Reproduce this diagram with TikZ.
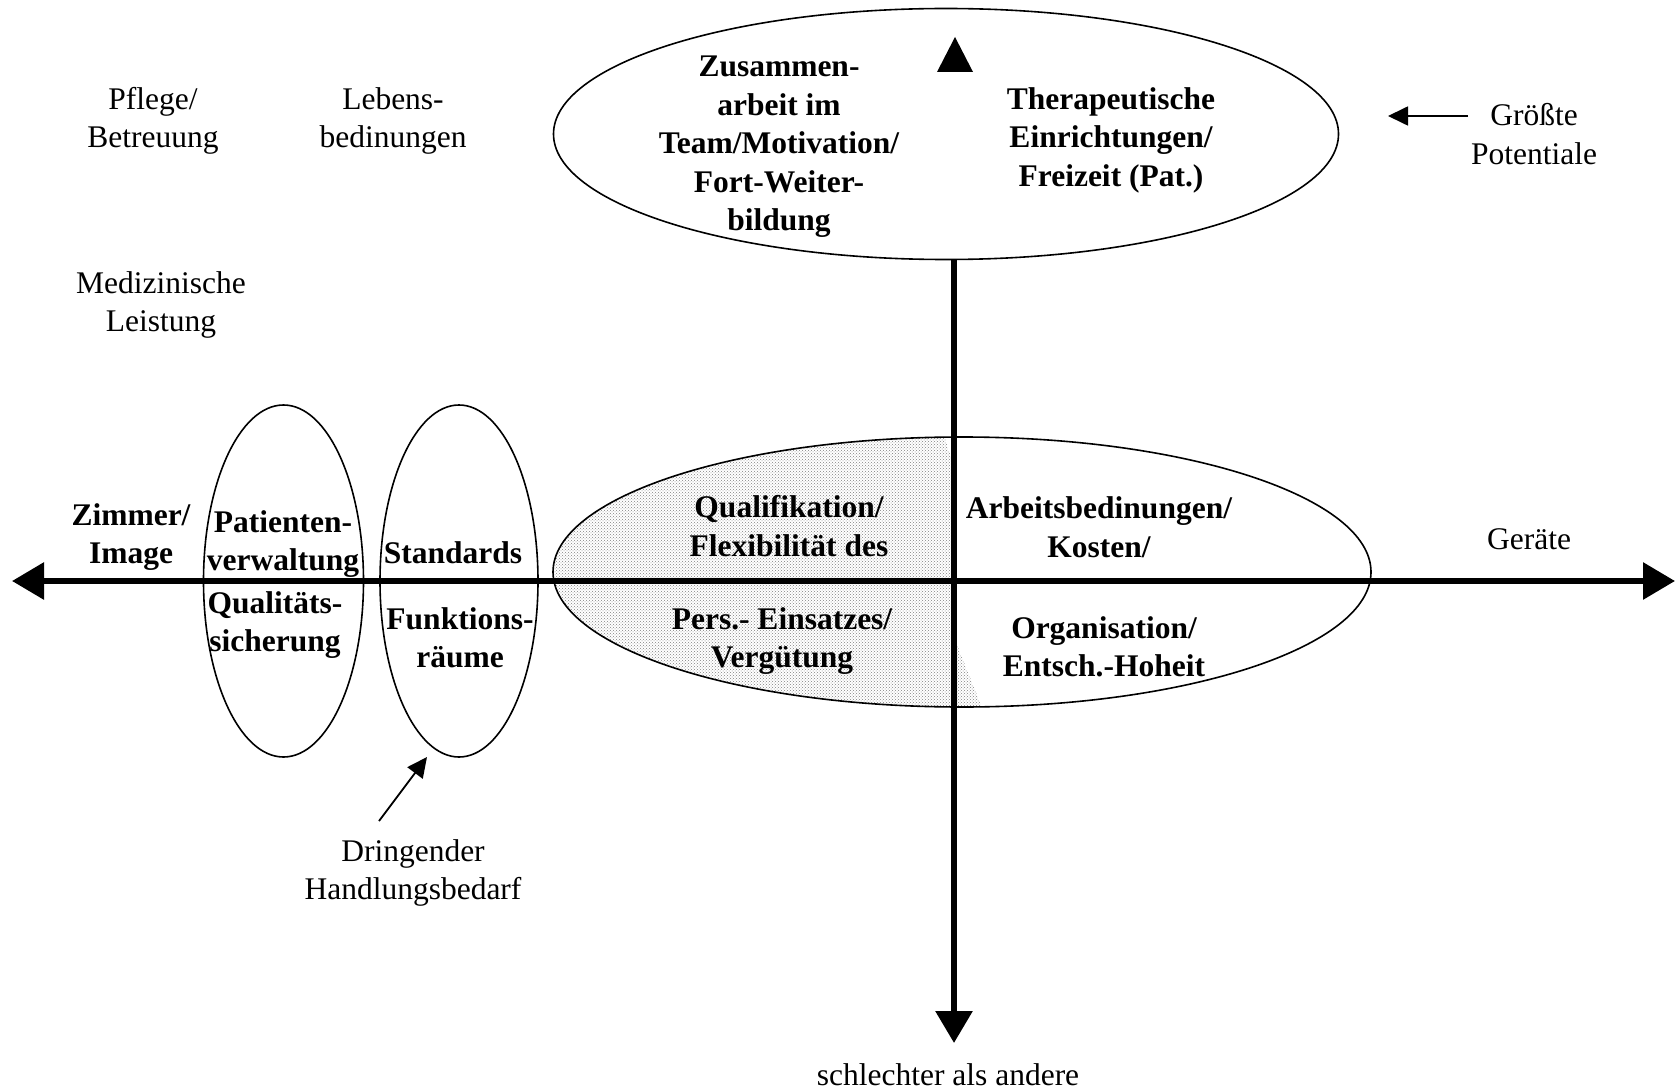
\documentclass[tikz,border=0pt]{standalone}
\usepackage{fontspec}
\setmainfont{Liberation Serif}
\usetikzlibrary{arrows.meta,shapes.geometric,patterns}
\begin{document}
\begin{tikzpicture}[x=1pt,y=-1pt,
  txt/.style={font=\fontsize{31.5}{38.5}\selectfont, align=center, inner sep=0pt},
  btxt/.style={font=\fontsize{31.5}{38.5}\selectfont\bfseries, align=center, inner sep=0pt},
  oval/.style={ellipse, draw, line width=1.6pt, inner sep=0pt},
  axisline/.style={line width=6pt},
  bigtip/.style={-{Triangle[length=32pt,width=36pt]}},
  smallarrow/.style={line width=1.8pt, -{Triangle[length=20pt,width=19pt]}}]
\useasboundingbox (0,0) rectangle (1678,1091);

% shaded ellipse (partial dotted fill)
\begin{scope}
  \clip (962,572) ellipse [x radius=409, y radius=135];
  \fill[pattern=crosshatch dots, pattern color=black!50] (540,430) -- (942,430) -- (952,460) -- (952,632) -- (985,715) -- (540,715) -- cycle;
\end{scope}
\node[oval, minimum width=818pt, minimum height=270pt] (mid) at (962,572) {};

% top ellipse
\node[oval, minimum width=785pt, minimum height=251pt] (top) at (946,134) {};

% left ellipses
\node[oval, minimum width=160pt, minimum height=352pt] (e1) at (283.5,581) {};
\node[oval, minimum width=158pt, minimum height=352pt] (e2) at (459,581) {};

% axes
\coordinate (hl) at (12,581);
\coordinate (hr) at (1675,581);
\coordinate (vt) at (954,260);
\coordinate (vb) at (954,1043);
\draw[axisline, {Triangle[length=32pt,width=36pt]}-{Triangle[length=32pt,width=36pt]}] (hl) -- (hr);
\draw[axisline, bigtip] (vt) -- (vb);
\fill (955,37) -- (973,72) -- (937,72) -- cycle;

% arrows
\coordinate (pa) at (1468,116);
\coordinate (pb) at (1388,116);
\draw[smallarrow] (pa) -- (pb);
\coordinate (da) at (379,821);
\coordinate (db) at (427,757);
\draw[smallarrow] (da) -- (db);

% texts
\node[txt] (t1) at (153,121) {Pflege/\\Betreuung};
\node[txt] (t2) at (393,121) {Lebens-\\bedinungen};
\node[txt] (t3) at (161,305) {Medizinische\\Leistung};
\node[btxt] (t4) at (779,147) {Zusammen-\\arbeit im\\Team/Motivation/\\Fort-Weiter-\\bildung};
\node[btxt] (t5) at (1111,140) {Therapeutische\\Einrichtungen/\\Freizeit (Pat.)};
\node[txt] (t6) at (1534,134) {Größte\\Potentiale};
\node[btxt] (t7) at (131,537) {Zimmer/\\Image};
\node[btxt] (t8) at (283,544) {Patienten-\\verwaltung};
\node[btxt] (t9) at (275,625) {Qualitäts-\\sicherung};
\node[btxt] (t10) at (453,553) {Standards};
\node[btxt] (t11) at (460,638) {Funktions-\\räume};
\node[btxt] (t12) at (789,526) {Qualifikation/\\Flexibilität des};
\node[btxt] (t13) at (1099,527) {Arbeitsbedinungen/\\Kosten/};
\node[txt] (t14) at (1529,539) {Geräte};
\node[btxt] (t15) at (782,641) {Pers.- Einsatzes/\\Vergütung};
\node[btxt] (t16) at (1104,647) {Organisation/\\Entsch.-Hoheit};
\node[txt] (t17) at (413,873) {Dringender\\Handlungsbedarf};
\node[txt] (t18) at (948,1075) {schlechter als andere};
\end{tikzpicture}
\end{document}
